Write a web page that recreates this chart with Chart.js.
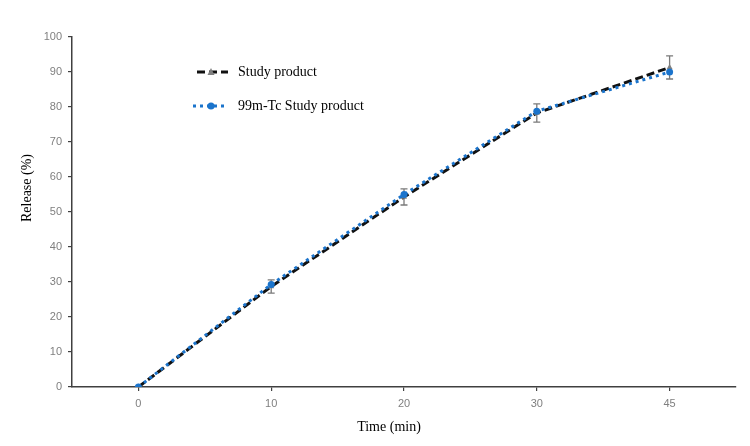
<!DOCTYPE html>
<html>
<head>
<meta charset="utf-8">
<script src="https://cdn.jsdelivr.net/npm/chart.js@4/dist/chart.umd.min.js"></script>
<style>
html,body{margin:0;padding:0;background:#fff;}
#wrap{width:750px;height:446px;position:relative;}
</style>
</head>
<body>
<div id="wrap"><canvas id="c" width="750" height="446"></canvas></div>
<script>
const categories = ['0', '10', '20', '30', '45'];
const studyProduct = [0, 28.7, 54.3, 78.3, 91.3];
const studyProductErr = [0, 1.9, 2.3, 2.6, 3.3];
const tcStudyProduct = [0, 29.3, 55.0, 78.8, 90.0];
const seriesNames = ['Study product', '99m-Tc Study product'];
const axisTitles = { x: 'Time (min)', y: 'Release (%)' };
const yTicks = { min: 0, max: 100, step: 10 };

const BLUE = '#1b74cc';
const GRAY = '#808080';

const errorBars = {
  id: 'errorBars',
  beforeDatasetsDraw(chart) {
    const ctx = chart.ctx;
    const ys = chart.scales.y;
    chart.data.datasets.forEach((ds, i) => {
      if (!ds.errors) return;
      const meta = chart.getDatasetMeta(i);
      meta.data.forEach((pt, j) => {
        const e = ds.errors[j];
        if (!e) return;
        const v = ds.data[j];
        const yt = ys.getPixelForValue(v + e);
        const yb = ys.getPixelForValue(v - e);
        ctx.save();
        ctx.strokeStyle = '#7a7a7a';
        ctx.lineWidth = 1.3;
        ctx.beginPath();
        ctx.moveTo(pt.x, yt); ctx.lineTo(pt.x, yb);
        ctx.moveTo(pt.x - 3.5, yt); ctx.lineTo(pt.x + 3.5, yt);
        ctx.moveTo(pt.x - 3.5, yb); ctx.lineTo(pt.x + 3.5, yb);
        ctx.stroke();
        ctx.restore();
      });
    });
  }
};

const extras = {
  id: 'extras',
  afterDraw(chart) {
    const ctx = chart.ctx;
    ctx.save();
    ctx.fillStyle = '#000';
    ctx.font = '14px "Liberation Serif", "Times New Roman", serif';
    ctx.textAlign = 'center';
    ctx.textBaseline = 'middle';
    ctx.fillText(axisTitles.x, 389, 427);
    ctx.translate(27, 188);
    ctx.rotate(-Math.PI / 2);
    ctx.fillText(axisTitles.y, 0, 0);
    ctx.restore();

    // legend
    const rows = [72, 106];
    chart.data.datasets.forEach((ds, i) => {
      const y = rows[i];
      ctx.save();
      ctx.strokeStyle = ds.borderColor;
      ctx.lineWidth = ds.borderWidth;
      ctx.setLineDash(ds.borderDash);
      ctx.beginPath();
      ctx.moveTo(i === 0 ? 197 : 193, y);
      ctx.lineTo(228, y);
      ctx.stroke();
      ctx.setLineDash([]);
      ctx.fillStyle = ds.pointBackgroundColor;
      const mx = 211;
      if (ds.pointStyle === 'triangle') {
        ctx.beginPath();
        ctx.moveTo(mx, y - 4); ctx.lineTo(mx + 3.5, y + 3); ctx.lineTo(mx - 3.5, y + 3);
        ctx.closePath(); ctx.fill();
      } else {
        ctx.beginPath(); ctx.arc(mx, y, 3.5, 0, Math.PI * 2); ctx.fill();
      }
      ctx.fillStyle = '#000';
      ctx.font = '14px "Liberation Serif", "Times New Roman", serif';
      ctx.textAlign = 'left';
      ctx.textBaseline = 'middle';
      ctx.fillText(ds.label, 238, y);
      ctx.restore();
    });
  }
};

new Chart(document.getElementById('c'), {
  type: 'line',
  data: {
    labels: categories,
    datasets: [
      {
        label: seriesNames[0],
        data: studyProduct,
        errors: studyProductErr,
        borderColor: '#111',
        borderWidth: 3,
        borderDash: [8, 4],
        pointStyle: 'triangle',
        pointRadius: 3.5,
        pointBackgroundColor: GRAY,
        pointBorderColor: GRAY,
        pointBorderWidth: 0,
        tension: 0,
        order: 1
      },
      {
        label: seriesNames[1],
        data: tcStudyProduct,
        borderColor: BLUE,
        borderWidth: 3,
        borderDash: [3, 4],
        pointStyle: 'circle',
        pointRadius: 3.5,
        pointBackgroundColor: BLUE,
        pointBorderColor: BLUE,
        pointBorderWidth: 0,
        tension: 0,
        order: 0
      }
    ]
  },
  options: {
    responsive: false,
    animation: false,
    devicePixelRatio: 1,
    layout: { padding: { top: 37, right: 14, left: 0, bottom: 0 } },
    plugins: { legend: { display: false }, tooltip: { enabled: false } },
    scales: {
      x: {
        type: 'category',
        offset: true,
        afterFit(s) { s.height = 59; },
        grid: { display: true, drawOnChartArea: false, offset: false, tickLength: 4, color: '#404040', lineWidth: 1.2 },
        border: { display: true, color: '#404040', width: 1.5 },
        ticks: { color: '#7f7f7f', font: { family: '"Liberation Sans", Arial, sans-serif', size: 11 }, padding: 6 }
      },
      y: {
        min: yTicks.min,
        max: yTicks.max,
        afterFit(s) { s.width = 72; },
        grid: { display: true, drawOnChartArea: false, tickLength: 4, color: '#404040', lineWidth: 1.2 },
        border: { display: true, color: '#404040', width: 1.5 },
        ticks: { stepSize: yTicks.step, color: '#7f7f7f', font: { family: '"Liberation Sans", Arial, sans-serif', size: 11 }, padding: 6 }
      }
    }
  },
  plugins: [errorBars, extras]
});
</script>
</body>
</html>
